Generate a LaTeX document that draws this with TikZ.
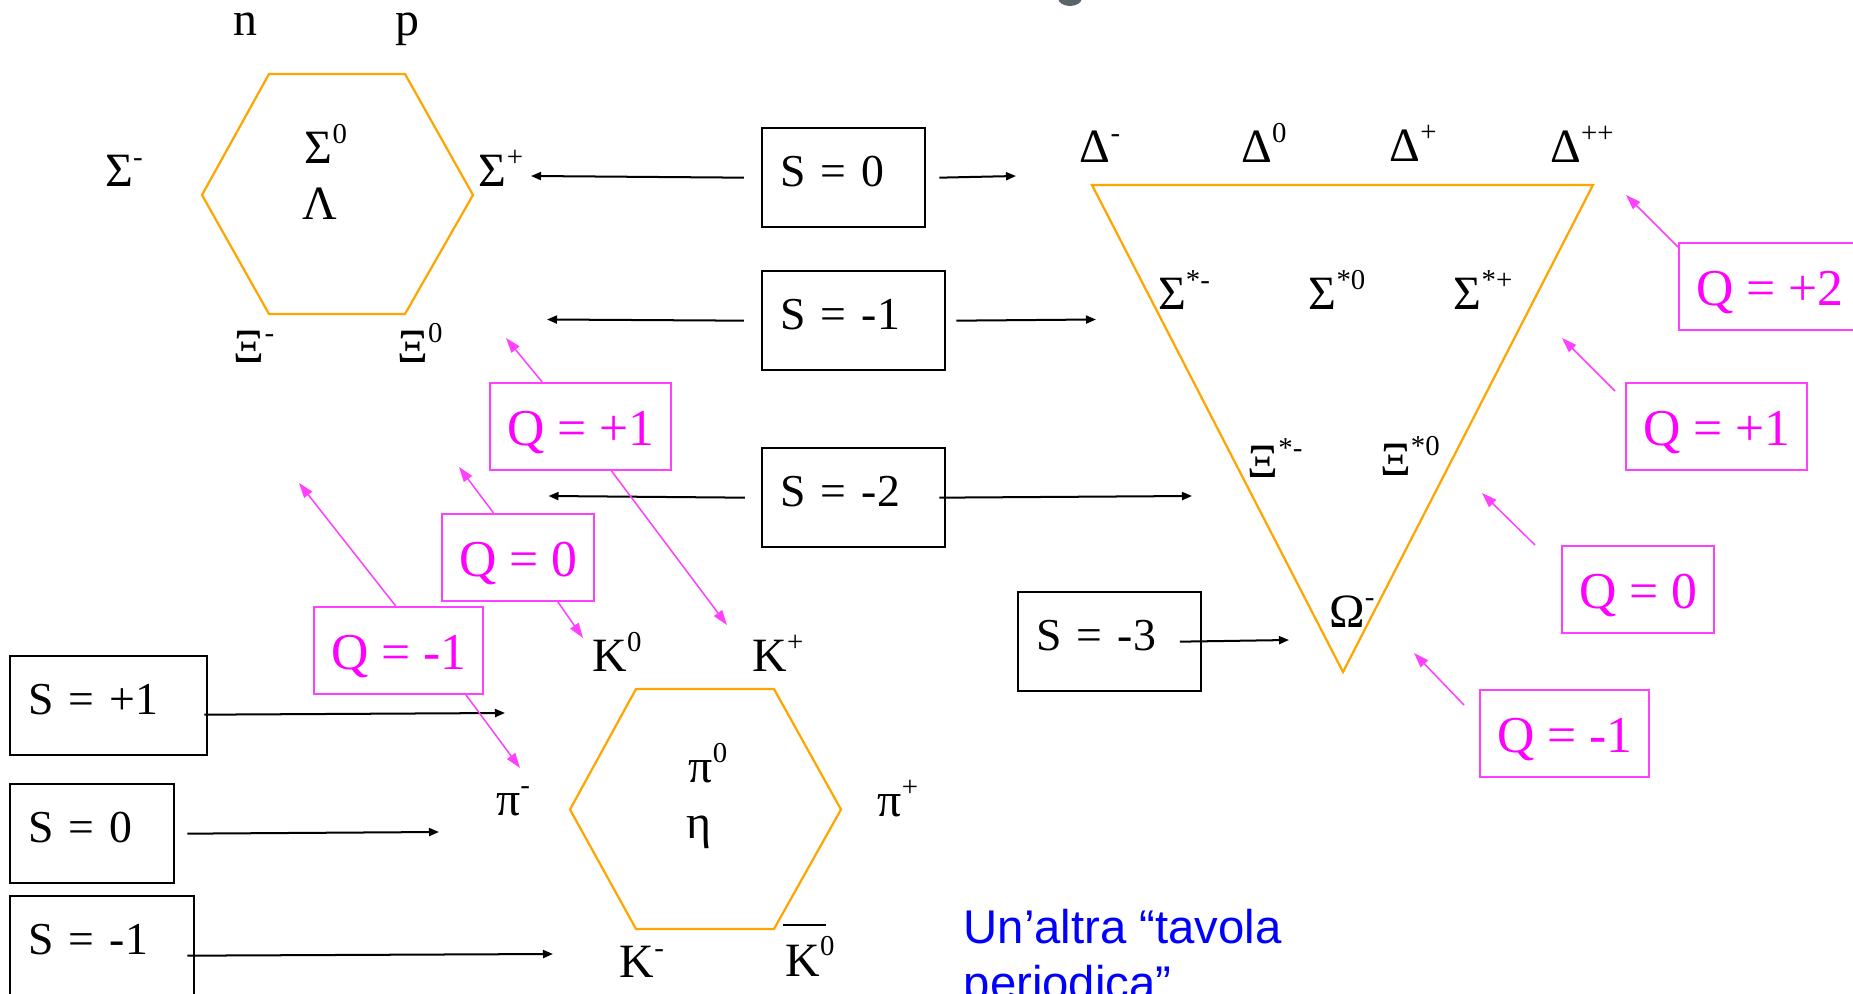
\documentclass[tikz,border=0pt]{standalone}
\usepackage{fontspec}
\setmainfont{Liberation Serif}
\newfontfamily\slidesans{Liberation Sans}
\usetikzlibrary{arrows.meta, positioning}

\definecolor{multorange}{RGB}{255,165,0}
\definecolor{qline}{RGB}{255,64,255}
\definecolor{qtext}{RGB}{255,0,255}
\definecolor{capblue}{RGB}{0,0,255}
\definecolor{blobgray}{RGB}{90,100,105}

\begin{document}
\begin{tikzpicture}[
    x=0.01cm, y=-0.01cm, % one unit = one pixel of the slide, y runs downwards
    octet/.style={draw=multorange, line width=0.63pt}, % orange multiplet outlines
    particle/.style={anchor=base, inner sep=1pt, font=\fontsize{13.6pt}{16pt}\selectfont}, % particle names
    sbox/.style={draw, line width=0.65pt, anchor=north west, inner xsep=0.18cm, minimum height=0.99cm,
        text height=0.30cm, text depth=0.13cm, align=left, font=\fontsize{13pt}{16pt}\selectfont}, % strangeness boxes
    qbox/.style={draw=qline, line width=0.57pt, text=qtext, anchor=north west, inner xsep=0.17cm,
        minimum height=0.865cm, text height=0.38cm, text depth=0cm, font=\fontsize{14.7pt}{17pt}\selectfont}, % charge boxes
    sarrow/.style={-{Triangle[length=0.1cm, width=0.08cm]}, line width=0.57pt}, % black arrows
    qarrow/.style={-{Triangle[length=0.15cm, width=0.1cm]}, draw=qline, line width=0.43pt} % magenta arrows
]

    % small raised charge after a particle name
    \def\charge#1{\raisebox{0.42em}{\fontsize{8.2pt}{9pt}\selectfont #1}}

    % --- Page ---
    \fill[white] (0,0) rectangle (1853,994);
    \useasboundingbox (0,0) rectangle (1853,994);
    \fill[blobgray] (1070,-2) ellipse [x radius=12, y radius=8];

    % --- Baryon octet ---
    \draw[octet] (269,74) -- (405,74) -- (473,195) -- (405,314) -- (269,314) -- (202,195) -- cycle;
    \node[particle] (n) at (245,36) {n};
    \node[particle] (p) at (407,36) {p};
    \node[particle] (Sigm) at (124,187) {Σ\charge{-}};
    \node[particle] (Sig0) at (326,164) {Σ\charge{0}};
    \node[particle] (Lam) at (320,220) {Λ};
    \node[particle] (Sigp) at (501,187) {Σ\charge{+}};
    \node[particle] (Xim) at (254,363) {Ξ\charge{-}};
    \node[particle] (Xi0) at (420,363) {Ξ\charge{0}};

    % --- Baryon decuplet ---
    \draw[octet] (1092,185) -- (1593,185) -- (1343,672) -- cycle;
    \node[particle] (Dm) at (1100,163) {Δ\charge{-}};
    \node[particle] (D0) at (1264,163) {Δ\charge{0}};
    \node[particle] (Dp) at (1413,162) {Δ\charge{+}};
    \node[particle] (Dpp) at (1582,163) {Δ\charge{++}};
    \node[particle] (SSm) at (1184,310) {Σ\charge{*-}};
    \node[particle] (SS0) at (1337,310) {Σ\charge{*0}};
    \node[particle] (SSp) at (1483,310) {Σ\charge{*+}};
    \node[particle] (XXm) at (1275,478) {Ξ\charge{*-}};
    \node[particle] (XX0) at (1410,476) {Ξ\charge{*0}};
    \node[particle] (Om) at (1352,627) {Ω\charge{-}};

    % --- Meson octet ---
    \draw[octet] (636,689) -- (774,689) -- (841,809.5) -- (774,929) -- (636,929) -- (570,809.5) -- cycle;
    \node[particle] (K0) at (617,672) {K\charge{0}};
    \node[particle] (Kp) at (778,672) {K\charge{+}};
    \node[particle] (pim) at (513,815) {π\charge{-}};
    \node[particle] (pi0) at (708,783) {π\charge{0}};
    \node[particle] (eta) at (699,839) {η};
    \node[particle] (pip) at (898,817) {π\charge{+}};
    \node[particle] (Km) at (642,978) {K\charge{-}};
    \node[particle] (K0bar) at (810,976) {\rlap{\kern-0.06em\rule[1.05em]{0.9em}{0.6pt}}K\charge{0}};

    % --- Strangeness boxes ---
    \node[sbox, text width=1.27cm] (s0top) at (761,127) {S = 0};
    \node[sbox, text width=1.47cm] (sm1top) at (761,270) {S = -1};
    \node[sbox, text width=1.47cm] (sm2) at (761,447) {S = -2};
    \node[sbox, text width=1.47cm] (sm3) at (1017,591) {S = -3};
    \node[sbox, text width=1.61cm] (sp1) at (9,655) {S = +1};
    \node[sbox, text width=1.28cm] (s0bot) at (9,783) {S = 0};
    \node[sbox, text width=1.48cm] (sm1bot) at (9,895) {S = -1};

    % arrow tips
    \coordinate (s0top-l) at (531,176);
    \coordinate (s0top-r) at (1016,176);
    \coordinate (sm1top-l) at (547,319.5);
    \coordinate (sm1top-r) at (1096,319.5);
    \coordinate (sm2-l) at (548.5,496);
    \coordinate (sm2-r) at (1192,496);
    \coordinate (sm3-r) at (1289,640);
    \coordinate (sp1-r) at (505,713);
    \coordinate (s0bot-r) at (439,832);
    \coordinate (sm1bot-r) at (553,954);

    \draw[sarrow] ([xshift=-0.17cm]s0top.west) -- (s0top-l);
    \draw[sarrow] ([xshift=0.13cm]s0top.east) -- (s0top-r);
    \draw[sarrow] ([xshift=-0.17cm]sm1top.west) -- (sm1top-l);
    \draw[sarrow] ([xshift=0.10cm]sm1top.east) -- (sm1top-r);
    \draw[sarrow] ([xshift=-0.16cm]sm2.west) -- (sm2-l);
    \draw[sarrow] ([xshift=-0.07cm]sm2.east) -- (sm2-r);
    \draw[sarrow] ([xshift=-0.225cm]sm3.east) -- (sm3-r);
    \draw[sarrow] ([xshift=-0.04cm, yshift=-0.09cm]sp1.east) -- (sp1-r);
    \draw[sarrow] ([xshift=0.12cm]s0bot.east) -- (s0bot-r);
    \draw[sarrow] ([xshift=-0.08cm, yshift=-0.10cm]sm1bot.east) -- (sm1bot-r);

    % --- Charge boxes ---
    \node[qbox] (qp1a) at (489,382) {Q = +1};
    \node[qbox] (q0a) at (441,513) {Q = 0};
    \node[qbox] (qm1a) at (313,606) {Q = -1};
    \node[qbox] (qp2) at (1678,242) {Q = +2};
    \node[qbox] (qp1b) at (1625,382) {Q = +1};
    \node[qbox] (q0b) at (1561,545) {Q = 0};
    \node[qbox] (qm1b) at (1479,689) {Q = -1};

    % arrow tips
    \coordinate (qp1a-up) at (506,338);
    \coordinate (qp1a-dn) at (727,625);
    \coordinate (q0a-up) at (459,467);
    \coordinate (q0a-dn) at (583,638);
    \coordinate (qm1a-up) at (299,483);
    \coordinate (qm1a-dn) at (520,768);
    \coordinate (qp2-up) at (1626,195);
    \coordinate (qp1b-up) at (1562,338);
    \coordinate (q0b-up) at (1482,493);
    \coordinate (qm1b-up) at (1414,653);

    \draw[qarrow] ([xshift=-0.385cm]qp1a.north) -- (qp1a-up);
    \draw[qarrow] ([xshift=0.305cm]qp1a.south) -- (qp1a-dn);
    \draw[qarrow] ([xshift=-0.245cm]q0a.north) -- (q0a-up);
    \draw[qarrow] ([xshift=0.395cm]q0a.south) -- (q0a-dn);
    \draw[qarrow] ([xshift=-0.03cm]qm1a.north) -- (qm1a-up);
    \draw[qarrow] ([xshift=0.67cm]qm1a.south) -- (qm1a-dn);
    \draw[qarrow] ([yshift=-0.05cm]qp2.north west) -- (qp2-up);
    \draw[qarrow] ([xshift=-0.10cm, yshift=-0.09cm]qp1b.north west) -- (qp1b-up);
    \draw[qarrow] ([xshift=-0.26cm]q0b.north west) -- (q0b-up);
    \draw[qarrow] ([xshift=-0.15cm, yshift=-0.16cm]qm1b.north west) -- (qm1b-up);

    % --- Caption ---
    \node[anchor=base west, align=left, inner sep=0pt, text=capblue,
        font=\slidesans\fontsize{13.45pt}{15.9pt}\selectfont] (caption) at (963,999) {Un’altra “tavola\\periodica”};

\end{tikzpicture}
\end{document}
